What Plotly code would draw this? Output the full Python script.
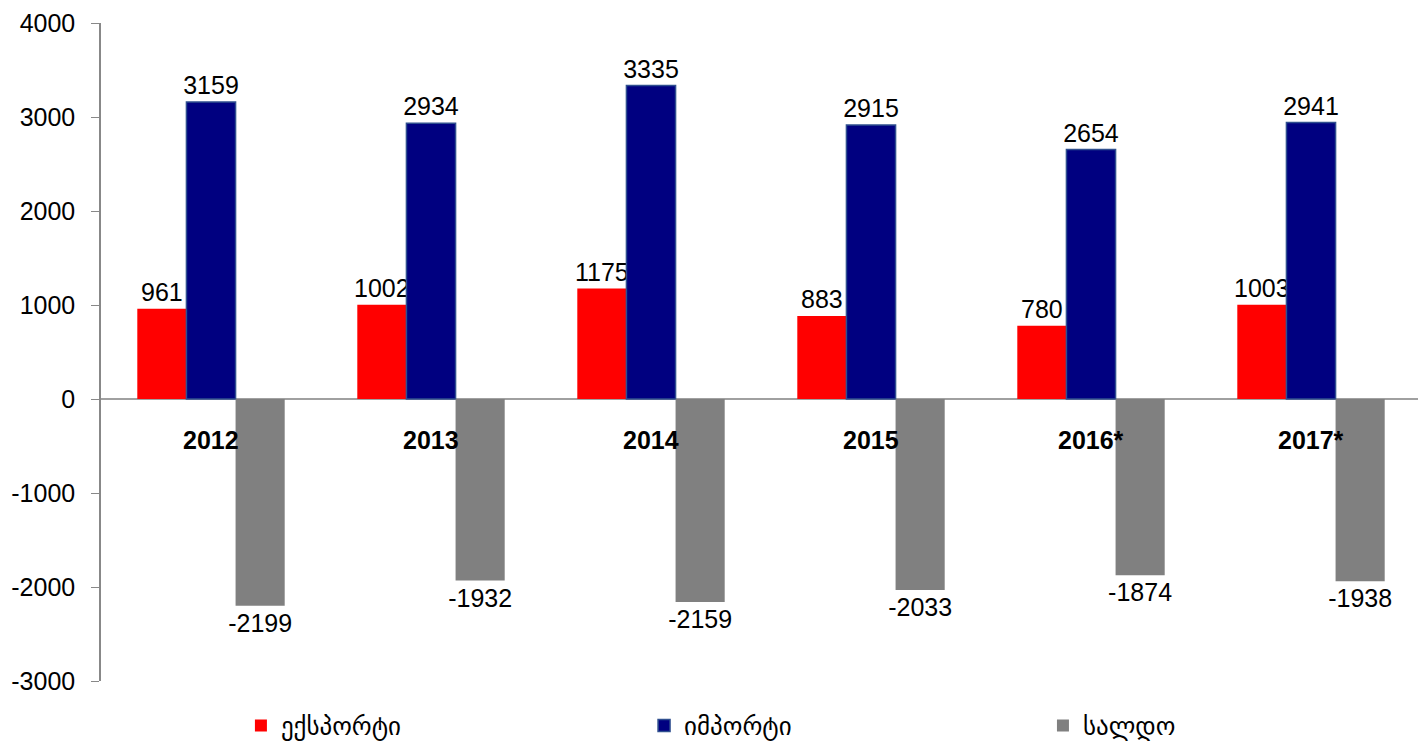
import plotly.graph_objects as go

years = ["2012", "2013", "2014", "2015", "2016*", "2017*"]
export_vals = [961, 1002, 1175, 883, 780, 1003]
import_vals = [3159, 2934, 3335, 2915, 2654, 2941]
saldo_vals = [-2199, -1932, -2159, -2033, -1874, -1938]
names = ["ექსპორტი", "იმპორტი", "სალდო"]
y_ticks = [-3000, -2000, -1000, 0, 1000, 2000, 3000, 4000]

font_num = dict(family="Liberation Sans, Arial", size=25, color="black")

fig = go.Figure()
fig.add_trace(go.Bar(x=years, y=export_vals, name=names[0], legend="legend",
                     marker=dict(color="#FF0000", line=dict(width=0)),
                     text=[str(v) for v in export_vals], textposition="outside", textfont=font_num,
                     constraintext="none", cliponaxis=False))
fig.add_trace(go.Bar(x=years, y=import_vals, name=names[1], legend="legend2",
                     marker=dict(color="#000080", line=dict(width=1.5, color="#2F4F8F")),
                     text=[str(v) for v in import_vals], textposition="outside", textfont=font_num,
                     constraintext="none", cliponaxis=False))
fig.add_trace(go.Bar(x=years, y=saldo_vals, name=names[2], legend="legend3",
                     marker=dict(color="#808080", line=dict(width=0)),
                     text=[str(v) for v in saldo_vals], textposition="outside", textfont=font_num,
                     constraintext="none", cliponaxis=False))

for i, yr in enumerate(years):
    fig.add_annotation(x=i, y=0, xref="x", yref="y", text="<b>%s</b>" % yr, showarrow=False,
                       yanchor="middle", yshift=-41,
                       font=dict(family="Liberation Sans, Arial", size=25, color="black"))

leg_font = dict(family="DejaVu Sans", size=25, color="black")
def leg(x):
    return dict(orientation="h", x=x, xanchor="left", y=-0.068, yanchor="middle",
                itemwidth=30, font=leg_font, bgcolor="rgba(0,0,0,0)")

fig.update_layout(
    width=1418, height=734,
    margin=dict(l=93, r=5, t=15, b=61, autoexpand=False),
    paper_bgcolor="white", plot_bgcolor="white",
    barmode="group", bargap=0.33, bargroupgap=0,
    showlegend=True,
    legend=leg(0.106), legend2=leg(0.4114), legend3=leg(0.7136),
    xaxis=dict(type="category", categoryorder="array", categoryarray=years, range=[-0.5, 5.5],
               showticklabels=False, showline=False, showgrid=False, zeroline=False, ticks=""),
)
fig.update_yaxes(range=[-3000, 4000], tickvals=y_ticks, ticktext=[str(v) for v in y_ticks],
                 showline=True, linecolor="#888888", linewidth=1.5, ticks="outside", ticklen=8,
                 tickcolor="#888888", showgrid=False, zeroline=True, zerolinecolor="#A0A0A0", zerolinewidth=1.5,
                 tickfont=font_num, ticklabelstandoff=11)

fig.write_html("out.html")
